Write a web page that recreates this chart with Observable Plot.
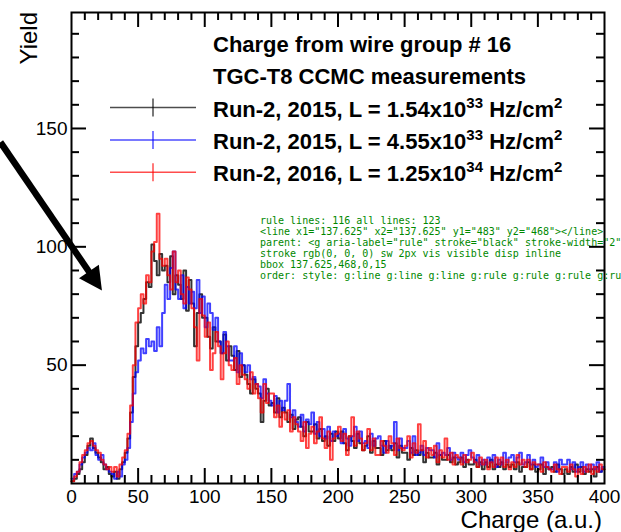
<!DOCTYPE html>
<html><head><meta charset="utf-8">
<script src="https://cdn.jsdelivr.net/npm/d3@7"></script>
<script src="https://cdn.jsdelivr.net/npm/@observablehq/plot@0.6"></script>
<style>body{margin:0;background:#fff} svg{display:block}</style>
</head><body><div id="chart"></div><pre id="dbg" style="position:absolute;left:260px;top:215px;font-size:10px;margin:0;color:#080"></pre>
<script>
const binWidth = 2;
const run2015Low = [
 1,2,4,6,9, 12,16,19,15,13, 11,9,6,7,4, 3,5,2,6,9,
 13,19,30,45,58, 68,72,78,85,83, 101,94,88,97,90, 92,85,96,80,88,
 84,78,90,73,86, 76,58,72,80,70, 70,62,57,66,60, 60,55,63,52,58,
 54,48,56,45,50, 46,42,38,44,40, 38,26,35,40,33, 34,30,36,28,32,
 30,26,29,23,27, 28,24,20,26,22, 22,25,19,23,18, 20,16,21,18,22,
 19,22,17,14,20, 18,15,21,17,14, 16,20,13,18,15, 15,12,18,14,16,
 14,17,11,16,13, 13,10,15,12,14, 12,14,9,13,11, 11,13,8,12,10,
 10,12,9,11,8, 9,11,7,10,8, 8,10,7,9,6, 9,7,10,6,8,
 7,9,6,8,7, 8,6,9,5,7, 7,9,6,8,5, 6,8,4,7,6,
 7,5,8,6,4, 6,4,7,5,8, 5,7,4,6,5, 6,3,7,5,6
];
const run2015High = [
 2,4,5,8,11, 13,15,14,17,12, 10,12,8,6,5, 4,2,5,3,8,
 10,15,26,38,47, 52,57,55,61,58, 60,56,66,58,72, 84,78,91,98,82,
 78,88,74,83,76, 81,74,86,72,79, 66,76,72,65,70, 60,55,64,58,52,
 52,58,47,55,50, 47,50,44,45,42, 41,36,44,38,35, 33,37,30,35,31,
 35,42,28,31,26, 24,29,22,27,25, 30,21,26,20,23, 19,24,18,22,20,
 21,17,23,19,16, 20,24,18,22,17, 18,15,21,16,19, 20,16,13,18,15,
 16,26,14,19,15, 15,18,13,20,12, 13,16,12,15,14, 14,11,17,12,13,
 12,15,10,13,11, 10,13,9,12,14, 11,9,12,8,10, 8,11,9,12,7,
 10,8,13,9,11, 12,9,11,13,8, 9,12,8,10,7, 8,11,7,9,6,
 6,9,5,10,8, 8,10,6,9,5, 7,9,5,8,6, 8,6,9,5,7
];
const run2016 = [
 1,3,5,9,12, 14,17,18,16,14, 13,10,8,6,7, 5,7,3,8,11,
 14,21,33,50,68, 74,80,76,88,85, 98,102,114,95,92, 95,88,82,98,85,
 90,80,76,87,82, 74,66,52,78,71, 62,68,48,55,64, 58,44,55,60,50,
 48,53,42,50,46, 44,40,47,38,42, 36,30,42,34,38, 38,28,33,24,30,
 27,31,22,28,25, 22,18,26,15,21, 24,17,22,28,19, 15,22,10,19,21,
 24,18,21,12,20, 28,16,22,19,14, 17,23,14,19,12, 12,18,16,13,20,
 17,12,19,15,14, 16,20,11,17,13, 25,14,18,11,15, 12,16,9,14,11,
 19,10,13,8,12, 11,8,12,9,10, 13,9,7,11,8, 10,6,9,7,11,
 8,11,7,10,6, 9,7,12,8,10, 7,10,6,9,8, 8,5,9,7,6,
 5,8,6,4,7, 7,5,8,6,3, 6,4,7,5,8, 4,7,5,8,6
];
const seriesValues = [run2015Low, run2015High, run2016];
const seriesColors = ["#000000", "#0000ff", "#ff0000"];
const legendPrefix = ["Run-2, 2015, L = 1.54x10", "Run-2, 2015, L = 4.55x10", "Run-2, 2016, L = 1.25x10"];
const legendExp = ["33", "33", "34"];
const headerLines = ["Charge from wire group # 16", "TGC-T8 CCMC measurements"];
const xLabelTicks = [0, 50, 100, 150, 200, 250, 300, 350, 400];
const yLabelTicks = [50, 100, 150];
const xTitle = "Charge (a.u.)";
const yTitle = "Yield";
const arrowTail = {x: -53, y: 144};
const arrowTip = {x: 23.2, y: 81.3};

const W = 621, H = 532;
const M = {top: 12, right: 17, bottom: 49, left: 71};
const FW = W - M.left - M.right, FH = H - M.top - M.bottom;
const xDom = [0, 400], yDom = [0, 199];
const font = "'Liberation Sans', Arial, Helvetica, sans-serif";

const tables = seriesValues.map(vals => {
  const t = vals.map((v, i) => ({x: i * binWidth, y: v}));
  t.push({x: vals.length * binWidth, y: vals[vals.length - 1]});
  return t;
});

const xMajor = d3.range(50, 400, 50);
const xMinor = d3.range(10, 400, 10).filter(v => v % 50 !== 0);
const yMajor = d3.range(50, 200, 50);
const yMinor = d3.range(10, 200, 10).filter(v => v % 50 !== 0);
const MAJ = 15, MIN = 8;
const yPx = (yDom[1] - yDom[0]) / FH, xPx = (xDom[1] - xDom[0]) / FW;

const marks = [];
tables.forEach((t, k) => {
  marks.push(Plot.line(t, {x: "x", y: "y", curve: "step-after", stroke: seriesColors[k],
    strokeWidth: 2, strokeOpacity: k === 0 ? 0.8 : 0.75}));
});
marks.push(
  Plot.ruleX(xMajor, {x: d => d, y1: yDom[0], y2: yDom[0] + MAJ * yPx, stroke: "black", strokeWidth: 2}),
  Plot.ruleX(xMinor, {x: d => d, y1: yDom[0], y2: yDom[0] + MIN * yPx, stroke: "black", strokeWidth: 2}),
  Plot.ruleX(xMajor, {x: d => d, y1: yDom[1], y2: yDom[1] - MAJ * yPx, stroke: "black", strokeWidth: 2}),
  Plot.ruleX(xMinor, {x: d => d, y1: yDom[1], y2: yDom[1] - MIN * yPx, stroke: "black", strokeWidth: 2}),
  Plot.ruleY(yMajor, {y: d => d, x1: xDom[0], x2: xDom[0] + MAJ * xPx, stroke: "black", strokeWidth: 2}),
  Plot.ruleY(yMinor, {y: d => d, x1: xDom[0], x2: xDom[0] + MIN * xPx, stroke: "black", strokeWidth: 2}),
  Plot.ruleY(yMajor, {y: d => d, x1: xDom[1], x2: xDom[1] - MAJ * xPx, stroke: "black", strokeWidth: 2}),
  Plot.ruleY(yMinor, {y: d => d, x1: xDom[1], x2: xDom[1] - MIN * xPx, stroke: "black", strokeWidth: 2}),
  Plot.frame({stroke: "black", strokeWidth: 2}),
  Plot.axisX({ticks: xLabelTicks, tickSize: 0, tickPadding: 6, fontSize: 19, label: null}),
  Plot.axisY({ticks: yLabelTicks, tickSize: 0, tickPadding: 4, fontSize: 19, label: null})
);

const plot = Plot.plot({
  width: W, height: H,
  marginTop: M.top, marginRight: M.right, marginBottom: M.bottom, marginLeft: M.left,
  style: {fontFamily: font, fontSize: "19px", color: "black", background: "white", overflow: "visible"},
  x: {domain: xDom},
  y: {domain: yDom},
  marks
});
document.getElementById("chart").appendChild(plot);

const sx = plot.scale("x"), sy = plot.scale("y");
const svg = d3.select(plot);
const X0 = sx.apply(xDom[0]), X1 = sx.apply(xDom[1]);
const Y0 = sy.apply(yDom[0]), Y1 = sy.apply(yDom[1]);

const tt = svg.append("g").attr("font-family", font).attr("font-size", 24).attr("fill", "black");
tt.append("text").attr("x", X1 - 2).attr("y", Y0 + 45).attr("text-anchor", "end").text(xTitle);
tt.append("text").attr("transform", `translate(${X0 - 34},${Y1}) rotate(-90)`).attr("text-anchor", "end").text(yTitle);

const tx = sx.apply(arrowTail.x), ty = sy.apply(arrowTail.y);
const hx = sx.apply(arrowTip.x), hy = sy.apply(arrowTip.y);
const L = Math.hypot(hx - tx, hy - ty), ux = (hx - tx) / L, uy = (hy - ty) / L;
const headLen = 23, headHalf = 12;
const bx = hx - ux * headLen, by = hy - uy * headLen;
const ag = svg.append("g");
ag.append("line").attr("x1", tx).attr("y1", ty).attr("x2", bx + ux * 2).attr("y2", by + uy * 2)
  .attr("stroke", "black").attr("stroke-width", 6.5);
ag.append("path").attr("d", `M${hx},${hy}L${bx - uy * headHalf},${by + ux * headHalf}L${bx + uy * headHalf},${by - ux * headHalf}Z`)
  .attr("fill", "black");

const lg = svg.append("g").attr("font-family", font).attr("font-weight", "bold").attr("font-size", 22)
  .attr("fill", "black").attr("text-anchor", "start");
const textX = 213, rowY0 = 52, rowStep = 32.3;
headerLines.forEach((s, i) => lg.append("text").attr("x", textX).attr("y", rowY0 + i * rowStep).text(s));
legendPrefix.forEach((s, i) => {
  const y = rowY0 + (i + 2) * rowStep;
  const my = y - 9;
  lg.append("line").attr("x1", 110).attr("x2", 196).attr("y1", my).attr("y2", my)
    .attr("stroke", seriesColors[i]).attr("stroke-width", 1.5).attr("stroke-opacity", 0.7);
  lg.append("line").attr("x1", 153).attr("x2", 153).attr("y1", my - 9).attr("y2", my + 9)
    .attr("stroke", seriesColors[i]).attr("stroke-width", 1.5).attr("stroke-opacity", 0.7);
  const t = lg.append("text").attr("x", textX).attr("y", y);
  t.append("tspan").text(s);
  t.append("tspan").attr("font-size", 15).attr("dy", -9).text(legendExp[i]);
  t.append("tspan").attr("dy", 9).text(" Hz/cm");
  t.append("tspan").attr("font-size", 15).attr("dy", -9).text("2");
});

// debug
const rl = plot.querySelectorAll("g[aria-label=rule] line");
const first = rl[0];
const cs = first ? getComputedStyle(first) : null;
const bb = first ? first.getBBox() : null;
document.getElementById("dbg").textContent = "rule lines: " + rl.length + " all lines: " + plot.querySelectorAll("line").length +
  "\n" + (first ? first.outerHTML : "none") +
  "\nparent: " + (first ? first.parentNode.outerHTML.slice(0, 160) : "") +
  "\nstroke " + (cs && cs.stroke) + " sw " + (cs && cs.strokeWidth) + " vis " + (cs && cs.visibility) + " disp " + (cs && cs.display) +
  "\nbbox " + (bb ? [bb.x, bb.y, bb.width, bb.height].join(",") : "") +
  "\norder: " + Array.from(plot.children).map(c => c.tagName + ":" + (c.getAttribute("aria-label") || "")).join(" ");
</script>
</body></html>
